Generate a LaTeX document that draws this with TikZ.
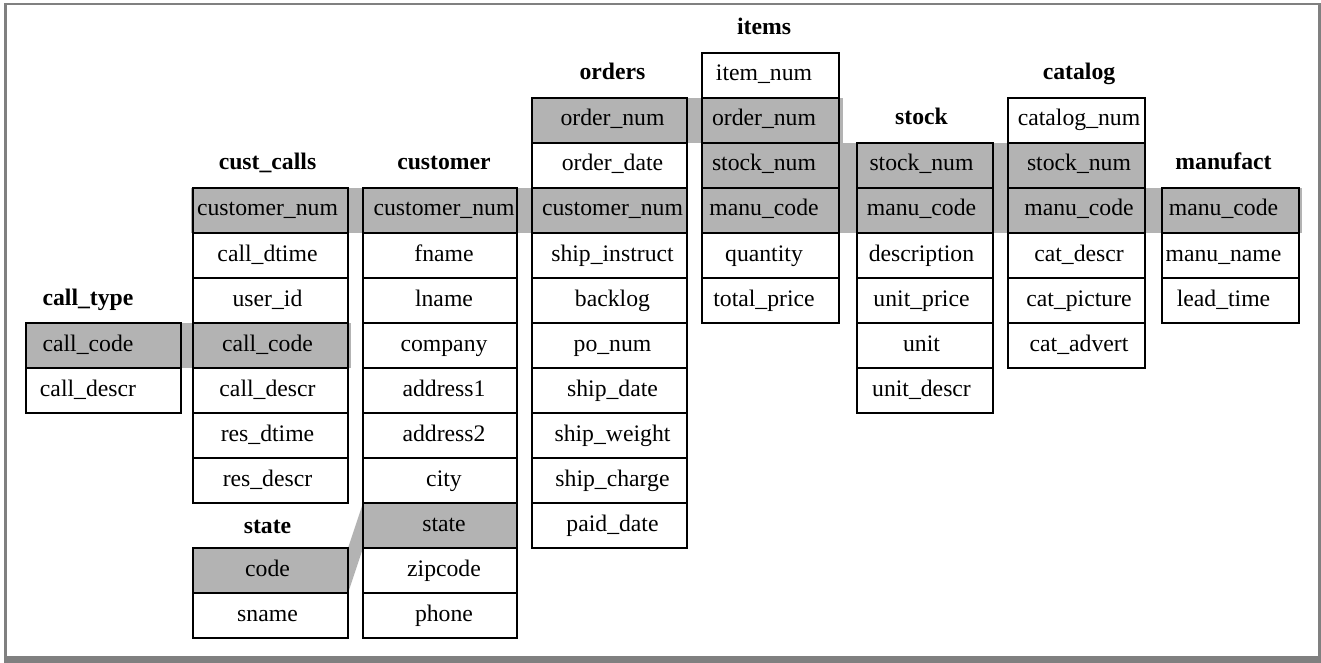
\documentclass[tikz,border=0pt]{standalone}
\usepackage{fontspec}
\setmainfont{Liberation Serif}
\definecolor{keygray}{RGB}{179,179,179}
\definecolor{framegray}{RGB}{128,128,128}
% \dbtable{name}{left}{right}{text centre x}{top of first row}{title baseline offset}{title}{fields}
\newcommand\dbtable[8]{%
  \node[titletext] (#1-title) at (#4,#5-#6) {#7};
  \foreach \f [count=\i] in {#8} {
    \path[cellbox] (#2,{#5+45*(\i-1)}) rectangle (#3,{#5+45*\i});
    \node[celltext] (#1-\i) at (#4,{#5+45*(\i-1)+28}) {\f};
  }%
}
\begin{document}
\begin{tikzpicture}[x=0.5pt,y=-0.5pt,
  cellbox/.style={draw=black,line width=0.6pt},
  celltext/.style={inner sep=0pt,anchor=base,font=\fontsize{11.85}{14}\selectfont},
  titletext/.style={celltext,font=\fontsize{11.85}{14}\selectfont\bfseries},
  band/.style={fill=keygray},
  framebar/.style={fill=framegray}]
\useasboundingbox (0,0) rectangle (1321,663);
\fill[white] (0,0) rectangle (1321,663);

% key-column bands joining related tables
\fill[band] (26,323) rectangle (351,368);   % call_code
\fill[band] (191,188) rectangle (687,233);  % customer_num
\fill[band] (532,98) rectangle (843,143);   % order_num
\fill[band] (702,143) rectangle (1145,188); % stock_num
\fill[band] (702,188) rectangle (1302,233); % manu_code
% customer.state -> state.code
\fill[band] (363,503) rectangle (517,548);
\fill[band] (193,548) rectangle (348,593);
\fill[band] (348,548) -- (363,503) -- (363,548) -- (348,593) -- cycle;

% tables
\dbtable{calltype}{26}{181}{88}{323}{18}{call\_type}{call\_code,call\_descr}
\dbtable{custcalls}{193}{348}{267.5}{188}{18}{cust\_calls}{customer\_num,call\_dtime,user\_id,call\_code,call\_descr,res\_dtime,res\_descr}
\dbtable{state}{193}{348}{267.5}{548}{15}{state}{code,sname}
\dbtable{customer}{363}{517}{444}{188}{18}{customer}{customer\_num,fname,lname,company,address1,address2,city,state,zipcode,phone}
\dbtable{orders}{532}{687}{612.5}{98}{18}{orders}{order\_num,order\_date,customer\_num,ship\_instruct,backlog,po\_num,ship\_date,ship\_weight,ship\_charge,paid\_date}
\dbtable{items}{702}{839}{764}{53}{18}{items}{item\_num,order\_num,stock\_num,manu\_code,quantity,total\_price}
\dbtable{stock}{857}{993}{921.5}{143}{18}{stock}{stock\_num,manu\_code,description,unit\_price,unit,unit\_descr}
\dbtable{catalog}{1008}{1145}{1079}{98}{18}{catalog}{catalog\_num,stock\_num,manu\_code,cat\_descr,cat\_picture,cat\_advert}
\dbtable{manufact}{1162}{1299}{1223.5}{188}{18}{manufact}{manu\_code,manu\_name,lead\_time}

% page frame
\fill[framebar] (4,3) rectangle (1321,5);
\fill[framebar] (4,3) rectangle (7,663);
\fill[framebar] (1318,3) rectangle (1321,663);
\fill[framebar] (4,656) rectangle (1321,663);
\end{tikzpicture}
\end{document}
